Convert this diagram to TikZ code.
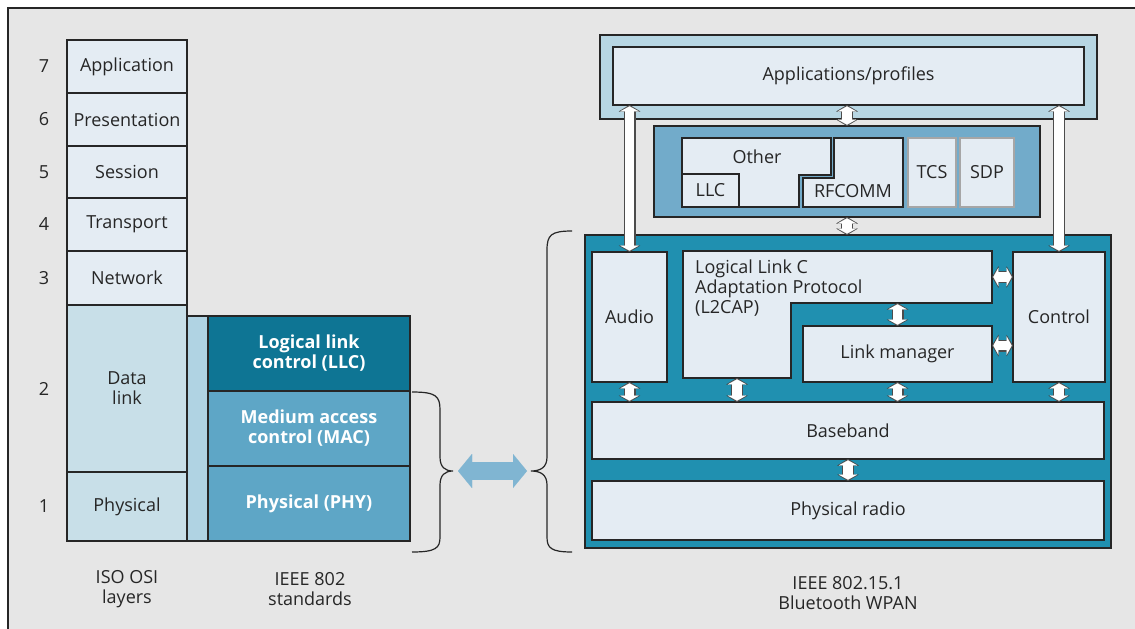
\documentclass[tikz,border=0pt]{standalone}
\usepackage{fontspec}
\setmainfont{Open Sans}
\usetikzlibrary{positioning,arrows.meta,calc}

\definecolor{page}{HTML}{E6E6E6}
\definecolor{pale}{HTML}{E4ECF3}
\definecolor{datablue}{HTML}{C8DFE8}
\definecolor{stripblue}{HTML}{B0D3E3}
\definecolor{llcteal}{HTML}{0E7594}
\definecolor{macblue}{HTML}{5EA6C6}
\definecolor{btteal}{HTML}{2090B0}
\definecolor{midblue}{HTML}{72ABCA}
\definecolor{appblue}{HTML}{B7D6E3}
\definecolor{pipeblue}{HTML}{80B5D2}
\colorlet{box edge}{black!85}
\colorlet{ink}{black!85}
\colorlet{link edge}{black!70}
\colorlet{thin edge}{gray!70}
\def\labelsize{\fontsize{18}{20}\selectfont}
\def\leftbrace{(412,392) .. controls (436,392) and (440,396) .. (440,410) -- (440,457)
    .. controls (440,467) and (445,471) .. (453,471) .. controls (445,471) and (440,475) .. (440,485)
    -- (440,537) .. controls (440,548) and (436,552) .. (412,552)}
\def\rightbrace{(572,231) .. controls (551,231) and (547,235) .. (547,250) -- (547,457)
    .. controls (547,467) and (541,471) .. (531,471) .. controls (541,471) and (547,475) .. (547,485)
    -- (547,537) .. controls (547,548) and (551,552) .. (572,552)}

\tikzset{layer/.style={draw=box edge, line width=1.3pt, fill=pale, anchor=north west,
        outer sep=0pt, inner sep=1pt, align=center, text=ink},
    std/.style={layer, fill=macblue, text=white, font={\labelsize\bfseries}},
    plate/.style={draw=box edge, line width=1.3pt, fill=pale},
    curly/.style={draw=ink, line width=1.2pt},
    dlink/.style={draw=white, line width=9.5pt, shorten <=1.3pt, shorten >=1.3pt,
        {Triangle[length=5pt,width=18pt,line width=0.01pt]}-{Triangle[length=5pt,width=18pt,line width=0.01pt]},
        preaction={draw=link edge, line width=12pt, shorten <=0pt, shorten >=0pt,
        {Triangle[length=6.5pt,width=21.5pt,line width=0.01pt]}-{Triangle[length=6.5pt,width=21.5pt,line width=0.01pt]}}},
    twoway/.style={draw=pipeblue, line width=18pt, shorten <=3pt, shorten >=3pt,
        {Triangle[length=14pt,width=34pt,line width=0.01pt]}-{Triangle[length=14pt,width=34pt,line width=0.01pt]}}}

\begin{document}
\begin{tikzpicture}[x=1pt, y=-1pt, font=\labelsize, text=ink]
    \useasboundingbox (0,0) rectangle (1135,629);
    \fill[white] (0,0) rectangle (1135,629);
    \fill[page] (8,8) rectangle (1135,629);
    \draw[ink, line width=1.5pt] (8,629) -- (8,8) -- (1135,8);

    % ISO OSI layers
    \node[layer, minimum width=120, minimum height=53] (app7) at (67,40) {Application};
    \node[layer, minimum width=120, minimum height=53, below=0pt of app7] (pres6) {Presentation};
    \node[layer, minimum width=120, minimum height=52, below=0pt of pres6] (sess5) {Session};
    \node[layer, minimum width=120, minimum height=53, below=0pt of sess5] (trans4) {Transport};
    \node[layer, minimum width=120, minimum height=54, below=0pt of trans4] (net3) {Network};
    \node[layer, fill=datablue, minimum width=120, minimum height=167, below=0pt of net3] (data2) {Data\\link};
    \node[layer, fill=datablue, minimum width=120, minimum height=69, below=0pt of data2] (phys1) {Physical};
    \foreach \n/\b in {7/app7,6/pres6,5/sess5,4/trans4,3/net3,2/data2,1/phys1}
        \node (num\n) at (44,0 |- \b) {\n};
    \node[align=center] (osilbl) at (127,589) {ISO OSI\\layers};

    % IEEE 802
    \node[layer, fill=stripblue, minimum width=21, minimum height=225] (strip) at (187,316) {};
    \node[std, fill=llcteal, minimum width=202, minimum height=75] (llc) at (208,316) {Logical link\\control (LLC)};
    \node[std, minimum width=202, minimum height=75, below=0pt of llc] (mac) {Medium access\\control (MAC)};
    \node[std, minimum width=202, minimum height=75, below=0pt of mac] (phy) {Physical (PHY)};
    \node[align=center] (stdlbl) at (310,589) {IEEE 802\\standards};

    \draw[curly] \leftbrace;
    \draw[curly] \rightbrace;
    \coordinate (ltip) at (455,471);
    \coordinate (rtip) at (530,471);
    \draw[twoway] (ltip) -- (rtip);

    % Bluetooth
    \node[layer, fill=appblue, minimum width=497, minimum height=84] (appout) at (600,35) {};
    \node[layer, minimum width=471, minimum height=58] (appin) at (613,47) {Applications/profiles};
    \node[layer, fill=midblue, minimum width=386, minimum height=91] (mid) at (654,126) {};
    \draw[plate] (682,138) -- (831,138) -- (831,175) -- (799,175) -- (799,207) -- (682,207) -- cycle;
    \draw[plate] (834,138) -- (903,138) -- (903,207) -- (803,207) -- (803,178) -- (834,178) -- cycle;
    \node[layer, minimum width=57, minimum height=33] (llcbox) at (682,174) {LLC};
    \node (other) at (757,157) {Other};
    \node (rfcomm) at (853,191) {RFCOMM};
    \node[layer, draw=thin edge, minimum width=48, minimum height=69] (tcs) at (908,138) {TCS};
    \node[layer, draw=thin edge, minimum width=54, minimum height=69] (sdp) at (960,138) {SDP};

    \node[layer, fill=btteal, minimum width=526, minimum height=313] (bt) at (585,235) {};
    \node[layer, minimum width=75, minimum height=130] (audio) at (592,252) {Audio};
    \draw[plate] (683,251) coordinate (l2nw) -- (992,251) coordinate (l2ne) -- (992,303) coordinate (l2step)
        -- (791,303) -- (791,378) coordinate (l2se) -- (683,378) coordinate (l2sw) -- cycle;
    \node[anchor=north west, align=left, inner sep=0pt] (l2cap) at (695,260) {Logical Link C\\Adaptation Protocol\\(L2CAP)};
    \node[layer, minimum width=189, minimum height=56] (lm) at (803,326) {Link manager};
    \node[layer, minimum width=92, minimum height=130] (ctrl) at (1013,252) {Control};
    \node[layer, minimum width=512, minimum height=57] (base) at (592,402) {Baseband};
    \node[layer, minimum width=512, minimum height=59] (radio) at (592,481) {Physical radio};
    \node[align=center] (btlbl) at (848,593) {IEEE 802.15.1\\Bluetooth WPAN};

    \draw[dlink] (appin.south -| audio) -- (audio.north);
    \draw[dlink] (appin.south -| ctrl) -- (ctrl.north);
    \draw[dlink] (appin.south -| mid) -- (mid.north);
    \draw[dlink] (mid.south) -- (mid.south |- bt.north);
    \draw[dlink] (l2step -| lm) -- (lm.north);
    \coordinate (l2mid) at ($(l2ne)!.5!(l2step)$);
    \draw[dlink] (l2mid) -- (l2mid -| ctrl.west);
    \coordinate (lmhi) at ($(lm.north east)!.35!(lm.south east)$);
    \draw[dlink] (lmhi) -- (lmhi -| ctrl.west);
    \coordinate (l2foot) at ($(l2sw)!.5!(l2se)$);
    \draw[dlink] (l2foot) -- (l2foot |- base.north);
    \foreach \b in {audio,lm,ctrl}
        \draw[dlink] (\b.south) -- (\b.south |- base.north);
    \draw[dlink] (base.south) -- (radio.north);
\end{tikzpicture}
\end{document}
